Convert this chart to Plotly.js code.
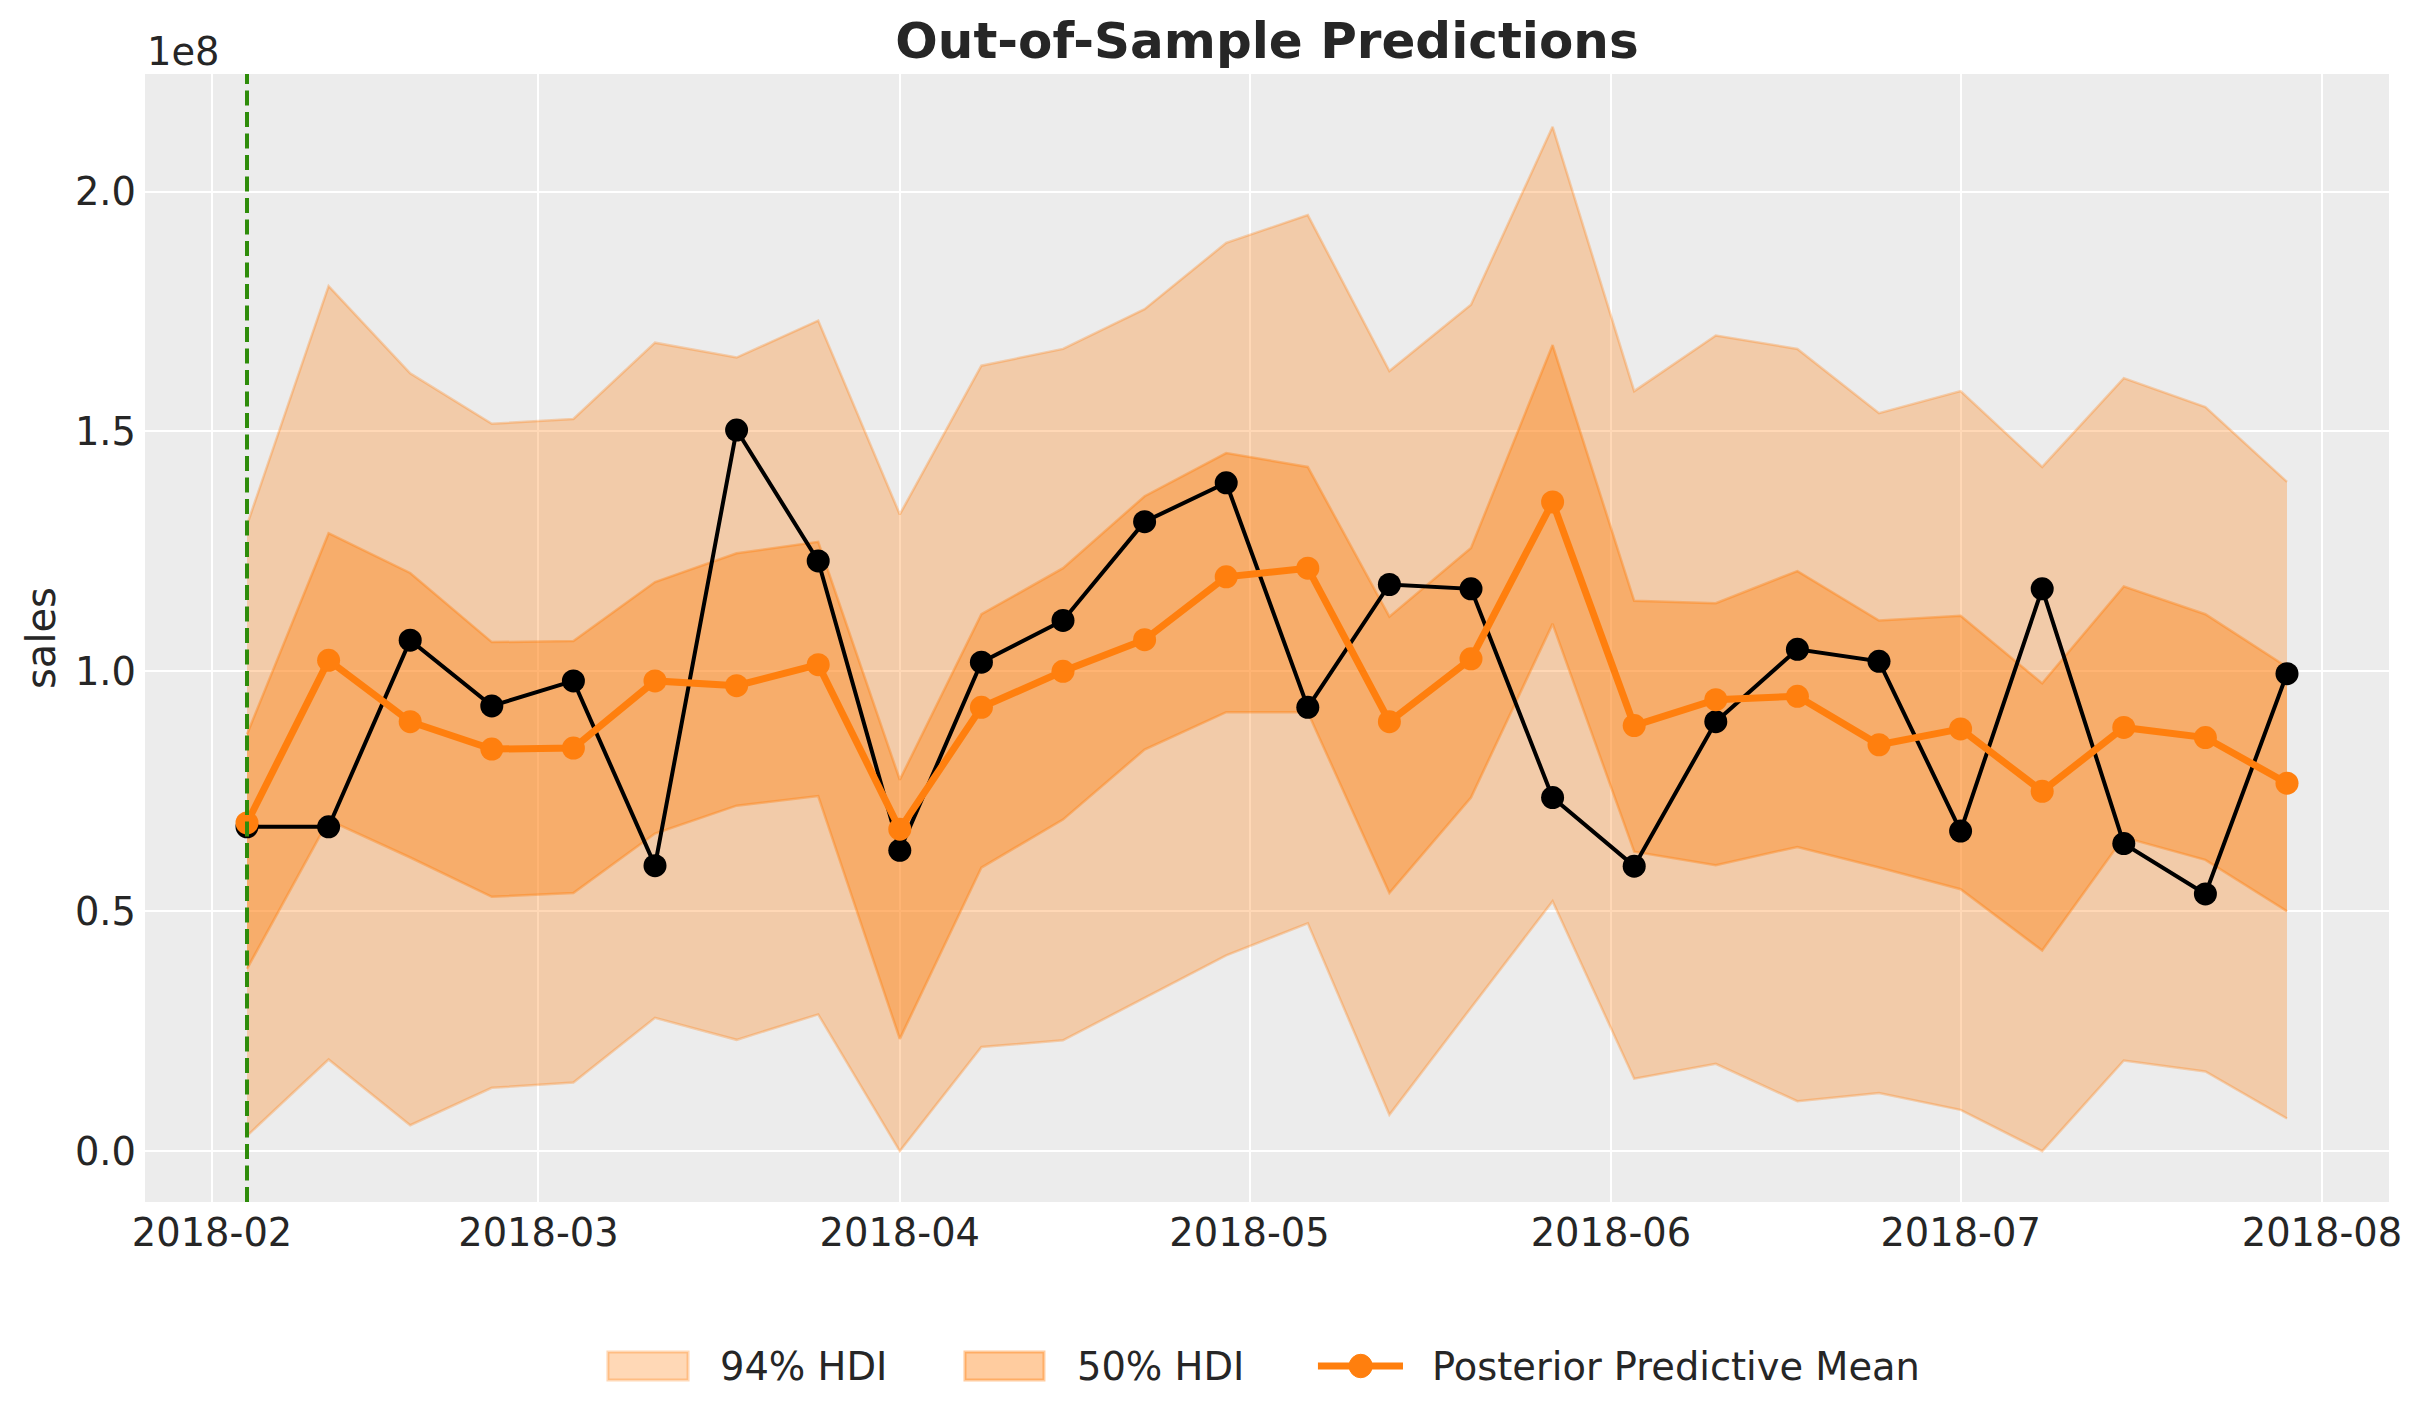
<!DOCTYPE html>
<html>
<head>
<meta charset="utf-8">
<script src="https://cdn.plot.ly/plotly-3.0.1.min.js"></script>
<style>
  html, body { margin: 0; padding: 0; background: #ffffff; }
  #chart { width: 2423px; height: 1423px; }
</style>
</head>
<body>
<div id="chart"></div>
<script>
// ---- data (sales; y axis in units of 1e8) ----
const dates = ['2018-02-04','2018-02-11','2018-02-18','2018-02-25','2018-03-04','2018-03-11','2018-03-18','2018-03-25',
  '2018-04-01','2018-04-08','2018-04-15','2018-04-22','2018-04-29','2018-05-06','2018-05-13','2018-05-20','2018-05-27',
  '2018-06-03','2018-06-10','2018-06-17','2018-06-24','2018-07-01','2018-07-08','2018-07-15','2018-07-22','2018-07-29'];

const observedSales = [0.676e8,0.676e8,1.065e8,0.928e8,0.980e8,0.595e8,1.503e8,1.230e8,
  0.627e8,1.019e8,1.106e8,1.312e8,1.393e8,0.925e8,1.181e8,1.172e8,0.737e8,
  0.594e8,0.895e8,1.046e8,1.021e8,0.667e8,1.172e8,0.641e8,0.536e8,0.995e8];

const posteriorMean = [0.684e8,1.023e8,0.895e8,0.838e8,0.840e8,0.980e8,0.970e8,1.014e8,
  0.671e8,0.925e8,1.000e8,1.066e8,1.197e8,1.215e8,0.895e8,1.026e8,1.353e8,
  0.887e8,0.941e8,0.948e8,0.847e8,0.880e8,0.750e8,0.883e8,0.862e8,0.767e8];

const hdi94Upper = [1.305e8,1.803e8,1.621e8,1.516e8,1.526e8,1.685e8,1.654e8,1.731e8,
  1.327e8,1.637e8,1.672e8,1.755e8,1.893e8,1.951e8,1.626e8,1.764e8,2.135e8,
  1.584e8,1.700e8,1.672e8,1.538e8,1.584e8,1.426e8,1.611e8,1.551e8,1.395e8];

const hdi94Lower = [0.032e8,0.191e8,0.054e8,0.132e8,0.143e8,0.278e8,0.232e8,0.285e8,
  0.000e8,0.217e8,0.231e8,0.319e8,0.408e8,0.475e8,0.076e8,0.299e8,0.521e8,
  0.151e8,0.182e8,0.104e8,0.121e8,0.086e8,0.000e8,0.189e8,0.166e8,0.068e8];

const hdi50Upper = [0.869e8,1.288e8,1.205e8,1.061e8,1.063e8,1.186e8,1.246e8,1.270e8,
  0.774e8,1.119e8,1.215e8,1.365e8,1.455e8,1.426e8,1.114e8,1.257e8,1.680e8,
  1.147e8,1.142e8,1.209e8,1.106e8,1.116e8,0.975e8,1.177e8,1.119e8,1.009e8];

const hdi50Lower = [0.380e8,0.690e8,0.612e8,0.530e8,0.538e8,0.662e8,0.720e8,0.740e8,
  0.234e8,0.591e8,0.691e8,0.837e8,0.915e8,0.915e8,0.538e8,0.737e8,1.099e8,
  0.624e8,0.596e8,0.634e8,0.591e8,0.546e8,0.418e8,0.654e8,0.607e8,0.500e8];

const forecastStart = '2018-02-04';
const yTickVals = [0, 0.5e8, 1.0e8, 1.5e8, 2.0e8];
const yTickText = ['0.0', '0.5', '1.0', '1.5', '2.0'];
const legendLabels = ['94% HDI', '50% HDI', 'Posterior Predictive Mean'];

// ---- styles ----
const ORANGE = '#ff7f0e';
const FILL94 = 'rgba(255,127,14,0.3)';
const FILL50 = 'rgba(255,127,14,0.4)';
const TEXT = '#262626';
const FONT = 'DejaVu Sans, Verdana, sans-serif';
const FS = 38.4;

const traces = [
  { x: dates, y: hdi94Lower, type: 'scatter', mode: 'lines', name: legendLabels[0],
    line: { color: FILL94, width: 2.5 }, showlegend: false, hoverinfo: 'skip' },
  { x: dates, y: hdi94Upper, type: 'scatter', mode: 'lines', name: legendLabels[0],
    fill: 'tonexty', fillcolor: FILL94, line: { color: FILL94, width: 2.5 }, showlegend: false },
  { x: dates, y: hdi50Lower, type: 'scatter', mode: 'lines', name: legendLabels[1],
    line: { color: FILL50, width: 2.5 }, showlegend: false, hoverinfo: 'skip' },
  { x: dates, y: hdi50Upper, type: 'scatter', mode: 'lines', name: legendLabels[1],
    fill: 'tonexty', fillcolor: FILL50, line: { color: FILL50, width: 2.5 }, showlegend: false },
  { x: dates, y: observedSales, type: 'scatter', mode: 'lines+markers', name: 'sales',
    line: { color: '#000000', width: 4 }, marker: { color: '#000000', size: 23 }, showlegend: false },
  { x: dates, y: posteriorMean, type: 'scatter', mode: 'lines+markers', name: legendLabels[2],
    line: { color: ORANGE, width: 7 }, marker: { color: ORANGE, size: 23 }, showlegend: false }
];

// legend drawn in paper coordinates below the plot
const legendShapes = [
  { type: 'rect', xref: 'paper', yref: 'paper', x0: 0.2063, x1: 0.2420, y0: -0.1330, y1: -0.1578,
    fillcolor: FILL94, line: { color: FILL94, width: 3 } },
  { type: 'rect', xref: 'paper', yref: 'paper', x0: 0.3654, x1: 0.4006, y0: -0.1330, y1: -0.1578,
    fillcolor: FILL50, line: { color: FILL50, width: 3 } },
  { type: 'line', xref: 'paper', yref: 'paper', x0: 0.5227, x1: 0.5606, y0: -0.1454, y1: -0.1454,
    line: { color: ORANGE, width: 7 } },
  { type: 'circle', xref: 'paper', yref: 'paper', x0: 0.5366, x1: 0.5469, y0: -0.1350, y1: -0.1558,
    fillcolor: ORANGE, line: { color: ORANGE, width: 1 } }
];

const layout = {
  width: 2423, height: 1423,
  margin: { l: 145, r: 34, t: 74, b: 221, pad: 0 },
  paper_bgcolor: '#ffffff',
  plot_bgcolor: '#ECECEC',
  font: { family: FONT, color: TEXT, size: FS },
  showlegend: false,
  hovermode: false,
  title: {
    text: '<b>Out-of-Sample Predictions</b>',
    font: { family: FONT, size: 50, color: TEXT },
    x: 0.5, xref: 'paper', xanchor: 'center',
    y: 0.9712, yref: 'container', yanchor: 'middle'
  },
  xaxis: {
    type: 'date',
    range: ['2018-01-26 06:00', '2018-08-06 18:00'],
    tick0: '2018-02-01', dtick: 'M1', tickformat: '%Y-%m',
    showgrid: true, gridcolor: '#ffffff', gridwidth: 2,
    zeroline: false, showline: false, ticks: '',
    tickfont: { family: FONT, size: FS, color: TEXT },
    ticklabelstandoff: 5
  },
  yaxis: {
    range: [-0.106e8, 2.245e8],
    tickmode: 'array', tickvals: yTickVals, ticktext: yTickText,
    showgrid: true, gridcolor: '#ffffff', gridwidth: 2,
    zeroline: false, showline: false, ticks: '',
    tickfont: { family: FONT, size: FS, color: TEXT },
    ticklabelstandoff: 8,
    title: { text: 'sales', font: { family: FONT, size: 40, color: TEXT }, standoff: 6 }
  },
  shapes: [
    { type: 'line', xref: 'x', yref: 'paper', x0: forecastStart, x1: forecastStart, y0: 0, y1: 1,
      line: { color: 'rgb(46,140,10)', width: 4, dash: '15px,6.5px' }, layer: 'above' }
  ].concat(legendShapes),
  annotations: [
    { text: '1e8', xref: 'paper', yref: 'paper', x: 0.0, y: 1.020, xanchor: 'left', yanchor: 'middle',
      showarrow: false, font: { family: FONT, size: FS, color: TEXT } },
    { text: legendLabels[0], xref: 'paper', yref: 'paper', x: 0.2555, y: -0.1454, xanchor: 'left', yanchor: 'middle',
      showarrow: false, font: { family: FONT, size: FS, color: TEXT } },
    { text: legendLabels[1], xref: 'paper', yref: 'paper', x: 0.4146, y: -0.1454, xanchor: 'left', yanchor: 'middle',
      showarrow: false, font: { family: FONT, size: FS, color: TEXT } },
    { text: legendLabels[2], xref: 'paper', yref: 'paper', x: 0.5728, y: -0.1454, xanchor: 'left', yanchor: 'middle',
      showarrow: false, font: { family: FONT, size: FS, color: TEXT } }
  ]
};

Plotly.newPlot('chart', traces, layout, { displayModeBar: false, staticPlot: true });
</script>
</body>
</html>
